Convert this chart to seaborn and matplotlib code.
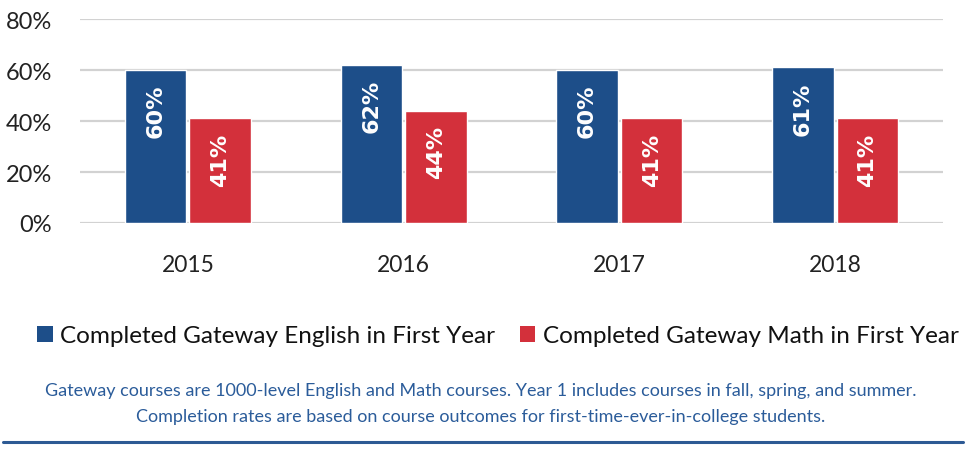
import matplotlib
matplotlib.use("Agg")
import matplotlib.pyplot as plt
import seaborn as sns
import pandas as pd
from matplotlib.patches import Patch
from matplotlib.lines import Line2D

years = ["2015", "2016", "2017", "2018"]
english = [60, 62, 60, 61]
math = [41, 44, 41, 41]
series_names = ["Completed Gateway English in First Year", "Completed Gateway Math in First Year"]
yticks = [0, 20, 40, 60, 80]
footnote = ("Gateway courses are 1000-level English and Math courses. Year 1 includes courses in fall, spring, and summer.\n"
            "Completion rates are based on course outcomes for first-time-ever-in-college students.")

BLUE = "#1d4e89"
RED = "#d3303b"

df = pd.DataFrame({
    "year": years * 2,
    "value": english + math,
    "series": [series_names[0]] * 4 + [series_names[1]] * 4,
})

sns.set_style("white")
plt.rcParams["font.family"] = ["Lato", "DejaVu Sans"]

fig = plt.figure(figsize=(9.66, 4.6), dpi=100)
ax = fig.add_axes([80 / 966, 1 - 224 / 460, (943 - 80) / 966, (224 - 20) / 460])

sns.barplot(data=df, x="year", y="value", hue="series", palette=[BLUE, RED],
            width=0.6, gap=0.05, saturation=1, ax=ax, legend=False, zorder=3)

ax.set_xlim(-0.5, 3.5)
ax.set_ylim(0, 80)
ax.set_yticks(yticks)
ax.set_yticklabels([f"{t}%" for t in yticks], fontsize=17, color="#222222")
ax.tick_params(axis="x", labelsize=16.5, length=0, pad=22, labelcolor="#222222")
ax.tick_params(axis="y", length=0, pad=20)
ax.set_xlabel("")
ax.set_ylabel("")
for s in ax.spines.values():
    s.set_visible(False)
ax.yaxis.grid(True, color="#d2d2d2", linewidth=1.6, zorder=0)
ax.set_axisbelow(True)

for container, vals in zip(ax.containers, [english, math]):
    for bar, v in zip(container, vals):
        ax.annotate(f"{v}%", (bar.get_x() + bar.get_width() / 2, bar.get_height()),
                    xytext=(0, -10), textcoords="offset points",
                    ha="center", va="top", rotation=90, color="white",
                    fontsize=16, fontweight="bold", family="DejaVu Sans", zorder=5)

handles = [Patch(facecolor=BLUE, edgecolor="none"), Patch(facecolor=RED, edgecolor="none")]
fig.legend(handles, series_names, loc="center", bbox_to_anchor=(0.5155, 1 - 337 / 460),
           ncol=2, frameon=False, fontsize=17.5, handlelength=0.65, handleheight=0.65,
           handletextpad=0.3, columnspacing=1.0, labelcolor="#111111")

fig.text(0.498, 1 - 404 / 460, footnote, ha="center", va="center", fontsize=13,
         color="#2b5c9a", linespacing=1.75)

fig.add_artist(Line2D([0.003, 0.997], [1 - 443 / 460, 1 - 443 / 460],
                      color="#2d5a94", linewidth=2.2, transform=fig.transFigure))

fig.savefig("out.png", dpi=100)
